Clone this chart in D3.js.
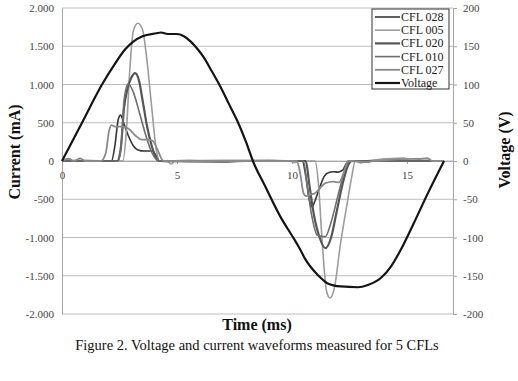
<!DOCTYPE html>
<html>
<head>
<meta charset="utf-8">
<script src="https://cdn.jsdelivr.net/npm/d3@7"></script>
<style>
  body { margin: 0; background: #fff; }
  svg text { font-family: "Liberation Serif", "Times New Roman", serif; }
</style>
</head>
<body>
<div id="chart-area"></div>
<script>
// series data: [time (ms), value]
var seriesNames = ["CFL 028", "CFL 005", "CFL 020", "CFL 010", "CFL 027", "Voltage"];

var cfl028 = [[0,0],[1.0,5],[2.15,0],[2.3,200],[2.45,550],[2.55,600],[2.7,480],[2.9,320],[3.1,200],[3.3,145],[3.6,130],[3.95,130],[4.1,60],[4.2,0],[5.5,5],[7.0,-5],[9.0,5],[10.45,0],[10.6,-200],[10.75,-500],[10.88,-600],[11.0,-520],[11.2,-350],[11.4,-200],[11.6,-150],[11.8,-140],[12.0,-145],[12.2,-120],[12.35,-40],[12.45,0],[14.0,5],[16.6,0]];

var cfl005 = [[0,0],[0.3,25],[0.5,5],[1.5,0],[2.65,0],[2.8,400],[2.95,1200],[3.1,1700],[3.3,1800],[3.5,1720],[3.7,1300],[3.9,700],[4.1,150],[4.25,0],[4.6,-10],[4.75,-40],[4.9,0],[7.0,10],[9.9,0],[10.1,-20],[10.3,0],[11.0,0],[11.15,-300],[11.3,-1000],[11.5,-1700],[11.65,-1790],[11.85,-1650],[12.1,-1100],[12.4,-550],[12.6,-200],[12.75,0],[13.0,-25],[13.2,0],[14.9,40],[15.1,0],[15.9,40],[16.1,0],[16.6,0]];

var cfl020 = [[0,0],[2.4,0],[2.55,150],[2.7,700],[2.85,950],[3.0,1080],[3.18,1150],[3.35,1050],[3.5,800],[3.7,450],[3.9,200],[4.1,30],[4.2,0],[6.8,-10],[8.0,0],[10.6,0],[10.75,-300],[10.95,-700],[11.2,-1000],[11.45,-1140],[11.7,-1000],[11.95,-650],[12.2,-300],[12.45,-50],[12.6,0],[16.6,0]];

var cfl010 = [[0,0],[2.45,0],[2.6,300],[2.7,800],[2.88,1010],[3.1,900],[3.35,650],[3.6,380],[3.85,150],[4.1,20],[4.25,0],[10.5,0],[10.65,-300],[10.85,-700],[11.1,-970],[11.45,-990],[11.7,-800],[12.0,-450],[12.3,-120],[12.5,0],[16.6,0]];

var cfl027 = [[0,0],[0.3,30],[0.5,0],[0.8,35],[1.0,0],[1.7,0],[1.9,100],[2.05,400],[2.15,470],[2.3,450],[2.6,450],[2.9,420],[3.2,330],[3.45,280],[3.75,280],[3.95,260],[4.15,150],[4.35,20],[4.45,0],[10.2,0],[10.35,-150],[10.5,-420],[10.62,-460],[10.8,-440],[11.0,-420],[11.2,-360],[11.45,-290],[11.8,-270],[12.05,-280],[12.25,-150],[12.4,-20],[12.5,0],[13.3,-15],[13.5,0],[15.9,30],[16.1,0],[16.6,0]];

var voltage = [[0,0],[0.87,50],[1.74,100],[2.3,127],[2.75,146],[3.1,156],[3.5,163],[4.1,167],[4.3,168],[4.6,166],[5.0,166],[5.3,163],[5.6,156],[5.9,146],[6.15,136],[6.5,118],[6.89,97],[7.25,75],[7.63,52],[8.0,25],[8.3,0],[8.85,-34],[9.5,-73],[10.03,-99],[10.29,-112],[10.59,-129],[11.12,-149],[11.55,-160],[12.12,-164],[12.86,-165],[13.3,-162],[13.86,-153],[14.3,-138],[14.73,-116],[15.3,-81],[15.91,-42],[16.61,0]];

var currentTicks = [-2000, -1500, -1000, -500, 0, 500, 1000, 1500, 2000];
var voltageTicks = [-200, -150, -100, -50, 0, 50, 100, 150, 200];
var timeTicks = [0, 5, 10, 15];

drawChart();
function drawChart() {

// SVG drawing area
    var W = 518, H = 381;
    var margin = {top: 8, right: 453, bottom: 314, left: 62};

    var svg = d3.select("#chart-area").append("svg")
        .attr("width", W)
        .attr("height", H);

    svg.append("rect").attr("width", W).attr("height", H).attr("fill", "#fff");

// Scales
    var x = d3.scaleLinear().domain([0, 17]).range([margin.left, margin.right]);
    var y = d3.scaleLinear().domain([-2000, 2000]).range([margin.bottom, margin.top]);
    var y2 = d3.scaleLinear().domain([-200, 200]).range([margin.bottom, margin.top]);

    function fmt(d) {
        if (d === 0) return "0";
        var s = d3.format(",")(Math.abs(d)).replace(/,/g, ".");
        return (d < 0 ? "-" : "") + s;
    }

// gridlines
    svg.append("g")
        .selectAll("line")
        .data(currentTicks)
        .join("line")
        .attr("x1", margin.left).attr("x2", margin.right)
        .attr("y1", function(d) { return y(d); })
        .attr("y2", function(d) { return y(d); })
        .attr("stroke", "#bdbdbd")
        .attr("stroke-width", 1);

// Axes
    var yAxisGroup = svg.append("g")
        .attr("transform", "translate(" + margin.left + ",0)")
        .call(d3.axisLeft(y).tickValues(currentTicks).tickSize(0).tickPadding(8).tickFormat(fmt));

    var y2AxisGroup = svg.append("g")
        .attr("transform", "translate(" + margin.right + ",0)")
        .call(d3.axisRight(y2).tickValues(voltageTicks).tickSize(4).tickPadding(6).tickFormat(fmt));

    // x axis sits on the zero line
    var xAxisGroup = svg.append("g")
        .attr("transform", "translate(0," + y(0) + ")")
        .call(d3.axisBottom(x).tickValues(timeTicks).tickSize(3).tickPadding(7));

    [yAxisGroup, y2AxisGroup, xAxisGroup].forEach(function(g) {
        g.select(".domain").attr("stroke", "#a6a6a6");
        g.selectAll(".tick line").attr("stroke", "#a6a6a6");
        g.selectAll("text")
            .attr("font-family", "Liberation Serif, serif")
            .attr("font-size", 11)
            .attr("fill", "#444");
    });

// Lines
    var lineCur = d3.line()
        .x(function(d) { return x(d[0]); })
        .y(function(d) { return y(d[1]); })
        .curve(d3.curveMonotoneX);

    var lineVolt = d3.line()
        .x(function(d) { return x(d[0]); })
        .y(function(d) { return y2(d[1]); })
        .curve(d3.curveMonotoneX);

    var series = [
        {name: seriesNames[0], data: cfl028, color: "#353535", width: 1.6, line: lineCur},
        {name: seriesNames[1], data: cfl005, color: "#9c9c9c", width: 1.6, line: lineCur},
        {name: seriesNames[2], data: cfl020, color: "#555555", width: 2.2, line: lineCur},
        {name: seriesNames[3], data: cfl010, color: "#6e6e6e", width: 1.6, line: lineCur},
        {name: seriesNames[4], data: cfl027, color: "#8a8a8a", width: 1.8, line: lineCur},
        {name: seriesNames[5], data: voltage, color: "#141414", width: 2.2, line: lineVolt}
    ];

    svg.append("g")
        .selectAll("path")
        .data(series)
        .join("path")
        .attr("d", function(s) { return s.line(s.data); })
        .attr("fill", "none")
        .attr("stroke", function(s) { return s.color; })
        .attr("stroke-width", function(s) { return s.width; })
        .attr("stroke-linejoin", "round");

// Legend
    var legend = svg.append("g").attr("transform", "translate(372,9)");
    legend.append("rect")
        .attr("width", 77).attr("height", 80)
        .attr("fill", "#fff")
        .attr("stroke", "#333")
        .attr("stroke-width", 1);

    var items = legend.selectAll(".item")
        .data(series)
        .join("g")
        .attr("class", "item")
        .attr("transform", function(d, i) { return "translate(0," + (8 + i * 13.2) + ")"; });
    items.append("line")
        .attr("x1", 3).attr("x2", 28)
        .attr("stroke", function(d) { return d.color; })
        .attr("stroke-width", function(d) { return d.width; });
    items.append("text")
        .attr("x", 29).attr("y", 4)
        .attr("font-size", 12)
        .attr("fill", "#222")
        .text(function(d) { return d.name; });

// Axis titles
    svg.append("text")
        .attr("transform", "translate(20,152) rotate(-90)")
        .attr("text-anchor", "middle")
        .attr("font-size", 16)
        .attr("font-weight", "bold")
        .attr("fill", "#111")
        .text("Current (mA)");

    svg.append("text")
        .attr("transform", "translate(510,150) rotate(-90)")
        .attr("text-anchor", "middle")
        .attr("font-size", 16)
        .attr("font-weight", "bold")
        .attr("fill", "#111")
        .text("Voltage (V)");

    svg.append("text")
        .attr("x", 257).attr("y", 330)
        .attr("text-anchor", "middle")
        .attr("font-size", 16)
        .attr("font-weight", "bold")
        .attr("fill", "#111")
        .text("Time (ms)");

    svg.append("text")
        .attr("x", 257).attr("y", 350)
        .attr("text-anchor", "middle")
        .attr("font-size", 14.5)
        .attr("fill", "#111")
        .text("Figure 2. Voltage and current waveforms measured for 5 CFLs");
}
</script>
</body>
</html>
